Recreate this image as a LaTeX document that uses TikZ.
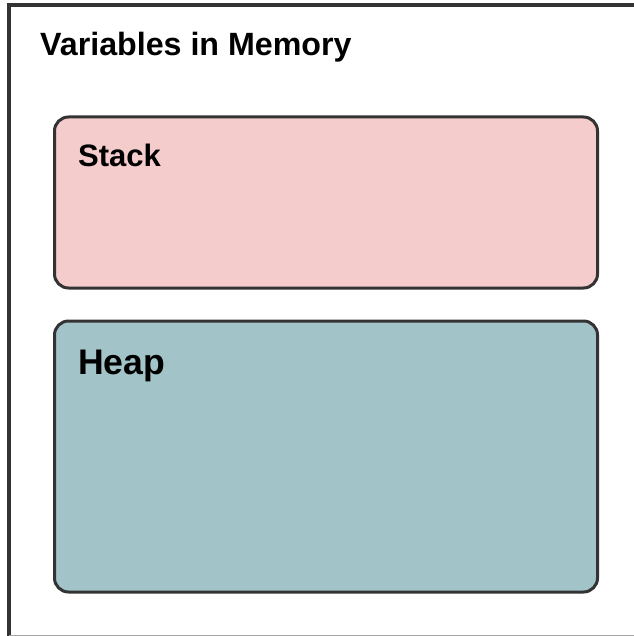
\documentclass[tikz,border=0pt]{standalone}
\usepackage{fontspec}
\setmainfont{Liberation Sans}
\definecolor{framegray}{HTML}{333333}
\definecolor{stackfill}{HTML}{F4CCCC}
\definecolor{heapfill}{HTML}{A2C4C9}
\tikzset{
  membox/.style={draw=framegray, line width=3pt, rounded corners=14pt},
  lbl/.style={anchor=base west, inner sep=0pt, font=\bfseries}
}
\begin{document}
\begin{tikzpicture}[x=1pt,y=-1pt]
\useasboundingbox (0,0) rectangle (633,636);
% outer frame
\draw[framegray, line width=4pt] (9,636) -- (9,5) -- (640,5);
\draw[gray!70, line width=1pt] (9,635) -- (640,635);
\node[lbl, font=\bfseries\fontsize{32.2}{36}\selectfont] (title) at (40,56) {Variables in Memory};
\draw[membox, fill=stackfill] (54.5,117) rectangle (597.5,288);
\node[lbl, font=\bfseries\fontsize{31}{36}\selectfont] (stack) at (78,167) {Stack};
\draw[membox, fill=heapfill] (54.5,321) rectangle (597.5,592);
\node[lbl, font=\bfseries\fontsize{35.6}{40}\selectfont] (heap) at (78,374) {Heap};
\end{tikzpicture}
\end{document}
